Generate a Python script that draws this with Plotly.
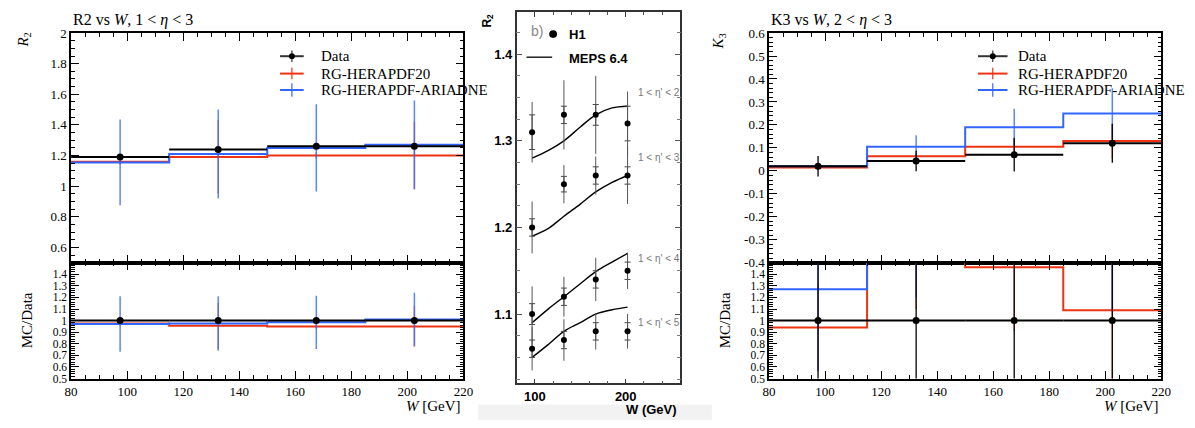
import numpy as np
import plotly.graph_objects as go

# ---------------- data ----------------
W_edges = [80, 115, 150, 185, 220]
W_centers = [97.5, 132.5, 167.5, 202.5]

# Left: R2 vs W, 1 < eta < 3
r2_data = [1.19, 1.24, 1.26, 1.26]
r2_data_err = [0.01, 0.01, 0.01, 0.01]
r2_hera = [1.16, 1.19, 1.20, 1.20]
r2_hera_err = [0.02, 0.24, 0.02, 0.22]
r2_ariadne = [1.155, 1.21, 1.25, 1.27]
r2_ariadne_err = [0.28, 0.29, 0.285, 0.29]
r2_ratio_data = [1.0, 1.0, 1.0, 1.0]
r2_ratio_data_err = [0.01, 0.01, 0.01, 0.01]
r2_ratio_hera = [0.975, 0.955, 0.95, 0.95]
r2_ratio_hera_err = [0.02, 0.20, 0.02, 0.175]
r2_ratio_ariadne = [0.97, 0.975, 0.985, 1.01]
r2_ratio_ariadne_err = [0.24, 0.235, 0.23, 0.23]

# Right: K3 vs W, 2 < eta < 3
k3_data = [0.02, 0.043, 0.07, 0.12]
k3_data_err = [0.045, 0.045, 0.073, 0.085]
k3_hera = [0.015, 0.064, 0.105, 0.13]
k3_hera_err = [0.01, 0.01, 0.04, 0.075]
k3_ariadne = [0.02, 0.105, 0.19, 0.25]
k3_ariadne_err = [0.01, 0.05, 0.08, 0.11]
k3_ratio_data = [1.0, 1.0, 1.0, 1.0]
k3_ratio_data_err = [2.3, 1.1, 1.05, 0.72]
k3_ratio_hera = [0.94, 1.6, 1.46, 1.09]
k3_ratio_hera_err = [0.38, 0.5, 0.55, 0.6]
k3_ratio_ariadne = [1.27, 2.4, 2.7, 2.1]
k3_ratio_ariadne_err = [0.7, 1.2, 1.0, 1.0]

# Middle: H1 R2 vs W in 1 < eta* < N, with MEPS 6.4
h1_W = [97, 132, 167, 202]
h1_eta2 = [1.31, 1.33, 1.33, 1.32]
h1_eta2_tot = [0.035, 0.04, 0.045, 0.037]
h1_eta2_stat = [0.02, 0.01, 0.012, 0.02]
h1_eta3 = [1.20, 1.25, 1.26, 1.26]
h1_eta3_tot = [0.03, 0.022, 0.022, 0.033]
h1_eta3_stat = [0.01, 0.009, 0.01, 0.01]
h1_eta4 = [1.10, 1.12, 1.14, 1.15]
h1_eta4_tot = [0.032, 0.023, 0.025, 0.021]
h1_eta4_stat = [0.012, 0.01, 0.01, 0.01]
h1_eta5 = [1.06, 1.07, 1.08, 1.08]
h1_eta5_tot = [0.025, 0.024, 0.021, 0.02]
h1_eta5_stat = [0.01, 0.01, 0.01, 0.01]

meps_W = [97, 115, 132, 150, 167, 185, 202]
meps_eta2 = [1.28, 1.289, 1.30, 1.316, 1.33, 1.338, 1.34]
meps_eta3 = [1.19, 1.199, 1.213, 1.227, 1.241, 1.252, 1.26]
meps_eta4 = [1.09, 1.106, 1.12, 1.135, 1.149, 1.16, 1.17]
meps_eta5 = [1.05, 1.065, 1.08, 1.09, 1.10, 1.105, 1.108]

eta_labels = ["1 &lt; η' &lt; 2", "1 &lt; η' &lt; 3", "1 &lt; η' &lt; 4", "1 &lt; η' &lt; 5"]
eta_label_y = [1.356, 1.281, 1.164, 1.09]

# ---------------- style ----------------
W_PX, H_PX = 1195, 428
SERIF = "Liberation Serif, DejaVu Serif, serif"
SANS = "Liberation Sans, Arial, sans-serif"
RED = "#EE3311"
BLUE = "#3366FF"
RED_ERR = "rgba(238,51,17,0.65)"
BLUE_ERR = "rgba(51,102,255,0.8)"


def px(x):
    return x / W_PX


def py(y):
    return 1 - y / H_PX


half_w = (np.diff(W_edges) / 2).tolist()

fig = go.Figure()


def add_hist(xa, ya, vals, errs, color, ecolor):
    fig.add_trace(go.Scatter(
        x=W_edges, y=list(vals) + [vals[-1]], mode="lines",
        line=dict(color=color, width=2, shape="hv"),
        xaxis=xa, yaxis=ya, showlegend=False, hoverinfo="skip"))
    fig.add_trace(go.Scatter(
        x=W_centers, y=vals, mode="markers",
        marker=dict(size=1, color="rgba(0,0,0,0)"),
        error_y=dict(type="data", array=errs, color=ecolor, width=0, thickness=1.5),
        xaxis=xa, yaxis=ya, showlegend=False, hoverinfo="skip"))


def add_data(xa, ya, vals, errs):
    fig.add_trace(go.Scatter(
        x=W_centers, y=vals, mode="markers",
        marker=dict(size=7, color="black"),
        error_x=dict(type="data", array=half_w, color="black", width=0, thickness=2),
        error_y=dict(type="data", array=errs, color="black", width=0, thickness=1.3),
        xaxis=xa, yaxis=ya, showlegend=False, hoverinfo="skip"))


# Left panel
add_hist("x", "y", r2_hera, r2_hera_err, RED, RED_ERR)
add_hist("x", "y", r2_ariadne, r2_ariadne_err, BLUE, BLUE_ERR)
add_data("x", "y", r2_data, r2_data_err)
add_hist("x2", "y2", r2_ratio_hera, r2_ratio_hera_err, RED, RED_ERR)
add_hist("x2", "y2", r2_ratio_ariadne, r2_ratio_ariadne_err, BLUE, BLUE_ERR)
add_data("x2", "y2", r2_ratio_data, r2_ratio_data_err)

# Right panel
add_hist("x4", "y4", k3_hera, k3_hera_err, RED, RED_ERR)
add_hist("x4", "y4", k3_ariadne, k3_ariadne_err, BLUE, BLUE_ERR)
add_data("x4", "y4", k3_data, k3_data_err)
add_hist("x5", "y5", k3_ratio_hera, k3_ratio_hera_err, RED, RED_ERR)
add_hist("x5", "y5", k3_ratio_ariadne, k3_ratio_ariadne_err, BLUE, BLUE_ERR)
add_data("x5", "y5", k3_ratio_data, k3_ratio_data_err)

# Middle panel
for meps in [meps_eta2, meps_eta3, meps_eta4, meps_eta5]:
    fig.add_trace(go.Scatter(
        x=meps_W, y=meps, mode="lines", line=dict(color="black", width=1.4, shape="spline"),
        xaxis="x3", yaxis="y3", showlegend=False, hoverinfo="skip"))
for vals, tot, stat in [(h1_eta2, h1_eta2_tot, h1_eta2_stat), (h1_eta3, h1_eta3_tot, h1_eta3_stat),
                        (h1_eta4, h1_eta4_tot, h1_eta4_stat), (h1_eta5, h1_eta5_tot, h1_eta5_stat)]:
    fig.add_trace(go.Scatter(
        x=h1_W, y=vals, mode="markers", marker=dict(size=1, color="rgba(0,0,0,0)"),
        error_y=dict(type="data", array=stat, color="#444", width=3, thickness=1),
        xaxis="x3", yaxis="y3", showlegend=False, hoverinfo="skip"))
    fig.add_trace(go.Scatter(
        x=h1_W, y=vals, mode="markers", marker=dict(size=6, color="black"),
        error_y=dict(type="data", array=tot, color="#555", width=0, thickness=1),
        xaxis="x3", yaxis="y3", showlegend=False, hoverinfo="skip"))

# ---------------- axes ----------------
def rivet_axis(**kw):
    d = dict(showline=True, linecolor="black", linewidth=1.5, mirror="allticks",
             ticks="inside", ticklen=8, tickwidth=1, tickcolor="black",
             showgrid=False, zeroline=False,
             tickfont=dict(family=SERIF, size=13, color="black"))
    d.update(kw)
    return d


x_major = list(range(80, 221, 20))
x_minor = list(range(80, 221, 5))
x_dom_left = [px(65), px(463)]
x_dom_right = [px(773), px(1171)]
y_dom_up = [py(265), py(27)]
y_dom_low = [py(385), py(265)]

ratio_vals = [round(v, 1) for v in np.arange(0.5, 1.41, 0.1)]
ratio_text = [("1" if abs(v - 1) < 1e-9 else f"{v:.1f}") for v in ratio_vals]
ratio_minor = dict(ticks="inside", ticklen=4, tickcolor="black", tickmode="array",
                   tickvals=[round(v, 2) for v in np.arange(0.5, 1.501, 0.02)], showgrid=False)
x_minor_d = dict(ticks="inside", ticklen=4, tickcolor="black", tickmode="array",
                 tickvals=x_minor, showgrid=False)

r2_vals = [round(v, 1) for v in np.arange(0.6, 2.01, 0.2)]
r2_text = [("1" if abs(v - 1) < 1e-9 else ("2" if abs(v - 2) < 1e-9 else f"{v:.1f}")) for v in r2_vals]
k3_vals = [round(v, 1) for v in np.arange(-0.4, 0.61, 0.1)]
k3_text = [("0" if abs(v) < 1e-9 else f"{v:.1f}") for v in k3_vals]
RATIO_FONT = dict(family=SERIF, size=11.5, color="black")

fig.update_layout(
    xaxis=rivet_axis(domain=x_dom_left, range=[80, 220], anchor="y", tickmode="array",
                     tickvals=x_major, showticklabels=False, minor=x_minor_d),
    yaxis=rivet_axis(domain=y_dom_up, range=[0.5, 2], anchor="x", tickmode="array",
                     tickvals=r2_vals, ticktext=r2_text,
                     minor=dict(ticks="inside", ticklen=4, tickcolor="black", tickmode="array",
                                tickvals=[round(v, 2) for v in np.arange(0.5, 2.001, 0.05)], showgrid=False)),
    xaxis2=rivet_axis(domain=x_dom_left, range=[80, 220], anchor="y2", tickmode="array",
                      tickvals=x_major, ticktext=[str(v) for v in x_major], minor=x_minor_d),
    yaxis2=rivet_axis(domain=y_dom_low, range=[0.5, 1.5], anchor="x2", tickmode="array",
                      tickvals=ratio_vals, ticktext=ratio_text, minor=ratio_minor,
                      tickfont=RATIO_FONT),
    xaxis4=rivet_axis(domain=x_dom_right, range=[80, 220], anchor="y4", tickmode="array",
                      tickvals=x_major, showticklabels=False, minor=x_minor_d),
    yaxis4=rivet_axis(domain=y_dom_up, range=[-0.4, 0.6], anchor="x4", tickmode="array",
                      tickvals=k3_vals, ticktext=k3_text,
                      minor=dict(ticks="inside", ticklen=4, tickcolor="black", tickmode="array",
                                 tickvals=[round(v, 2) for v in np.arange(-0.4, 0.601, 0.02)], showgrid=False)),
    xaxis5=rivet_axis(domain=x_dom_right, range=[80, 220], anchor="y5", tickmode="array",
                      tickvals=x_major, ticktext=[str(v) for v in x_major], minor=x_minor_d),
    yaxis5=rivet_axis(domain=y_dom_low, range=[0.5, 1.5], anchor="x5", tickmode="array",
                      tickvals=ratio_vals, ticktext=ratio_text, minor=ratio_minor,
                      tickfont=RATIO_FONT),
    xaxis3=dict(domain=[px(517), px(683)], range=[80, 260], anchor="y3",
                showline=True, linecolor="#333", linewidth=1.5, mirror="ticks",
                ticks="inside", ticklen=5, tickcolor="#333", tickmode="array", tickvals=[100, 200],
                showgrid=False, zeroline=False,
                tickfont=dict(family=SANS, size=13, color="black", weight="bold"),
                minor=dict(ticks="inside", ticklen=3, tickcolor="#555", tickmode="array",
                           tickvals=list(range(80, 261, 20)), showgrid=False)),
    yaxis3=dict(domain=[py(390), py(5)], range=[1.02, 1.449], anchor="x3",
                showline=True, linecolor="#333", linewidth=1.5, mirror="ticks",
                ticks="inside", ticklen=6, tickcolor="#555", tickmode="array",
                tickvals=[1.1, 1.2, 1.3, 1.4], ticktext=["1.1", "1.2", "1.3", "1.4"],
                showgrid=False, zeroline=False,
                tickfont=dict(family=SANS, size=13, color="black", weight="bold"),
                minor=dict(ticks="inside", ticklen=4, tickcolor="#777", tickmode="array",
                           tickvals=[round(v, 3) for v in np.arange(1.025, 1.449, 0.025)], showgrid=False)),
    width=W_PX, height=H_PX, margin=dict(l=0, r=0, t=0, b=0),
    paper_bgcolor="white", plot_bgcolor="white",
)

# ---------------- annotations ----------------
ann = []


def text(x, y, s, size=15, family=SERIF, color="black", xanchor="left", yanchor="middle", angle=0, weight="normal"):
    ann.append(dict(x=px(x), y=py(y), xref="paper", yref="paper", text=s, showarrow=False,
                    xanchor=xanchor, yanchor=yanchor, textangle=angle,
                    font=dict(family=family, size=size, color=color, weight=weight)))


text(65, 13, "R2 vs <i>W</i>, 1 &lt; <i>η</i> &lt; 3", size=16)
text(773, 13, "K3 vs <i>W</i>, 2 &lt; <i>η</i> &lt; 3", size=16)
text(17, 34, "<i>R</i><sub>2</sub>", size=15, angle=-90, xanchor="center")
text(722, 36, "<i>K</i><sub>3</sub>", size=15, angle=-90, xanchor="center")
text(20, 325, "MC/Data", size=15, angle=-90, xanchor="center")
text(728, 325, "MC/Data", size=15, angle=-90, xanchor="center")
text(463, 413, "<i>W</i> [GeV]", size=15, xanchor="right")
text(1171, 413, "<i>W</i> [GeV]", size=15, xanchor="right")

legend_names = ["Data", "RG-HERAPDF20", "RG-HERAPDF-ARIADNE"]
legend_rows = [51, 69, 86]
for name, yy in zip(legend_names, legend_rows):
    text(317, yy, name, size=15)
    text(1024, yy, name, size=15)

# middle panel text
text(487, 14, "<b>R<sub>2</sub></b>", size=12, family=SANS, angle=-90, xanchor="center")
text(682, 417, "<b>W (GeV)</b>", size=13, family=SANS, xanchor="right")
text(530, 25, "b)", size=14, family=SANS, color="#888")
text(568, 28, "<b>H1</b>", size=13, family=SANS)
text(568, 53, "<b>MEPS 6.4</b>", size=13, family=SANS)
for lab, yv in zip(eta_labels, eta_label_y):
    ann.append(dict(x=211, y=yv, xref="x3", yref="y3", text=lab, showarrow=False,
                    xanchor="left", yanchor="middle",
                    font=dict(family=SANS, size=10, color="#777")))

fig.update_layout(annotations=ann)

# ---------------- legend marks as shapes ----------------
shapes = []


def seg(x0, y0, x1, y1, color, width=2):
    shapes.append(dict(type="line", xref="paper", yref="paper", x0=px(x0), y0=py(y0), x1=px(x1), y1=py(y1),
                       line=dict(color=color, width=width)))


def dot(cx, cy, r, color):
    shapes.append(dict(type="circle", xref="paper", yref="paper", x0=px(cx - r), x1=px(cx + r),
                       y0=py(cy + r), y1=py(cy - r), fillcolor=color, line=dict(color=color, width=0)))


for lx in [277, 985]:
    cx = lx + 12 if lx == 277 else lx + 15
    w = 24 if lx == 277 else 30
    seg(lx, 51, lx + w, 51, "#333", 2)
    seg(cx, 45, cx, 57, "#333", 1.2)
    dot(cx, 51, 3, "black")
    seg(lx, 69, lx + w, 69, RED, 2)
    seg(cx, 63, cx, 75, RED, 1.2)
    seg(lx, 86, lx + w, 86, BLUE, 2)
    seg(cx, 79, cx, 93, BLUE, 1.2)

# middle legend
dot(554, 28, 4, "black")
seg(527, 52, 553, 52, "black", 1.3)
# light grey strip at the bottom of the middle figure
shapes.append(dict(type="rect", xref="paper", yref="paper", x0=px(478), x1=px(715), y0=0, y1=py(412),
                   fillcolor="#f2f2f2", line=dict(width=0), layer="below"))

fig.update_layout(shapes=shapes)

fig.write_html("out.html", config={"displayModeBar": False},
               post_script="document.body.style.margin='0';document.body.style.overflow='hidden';")
